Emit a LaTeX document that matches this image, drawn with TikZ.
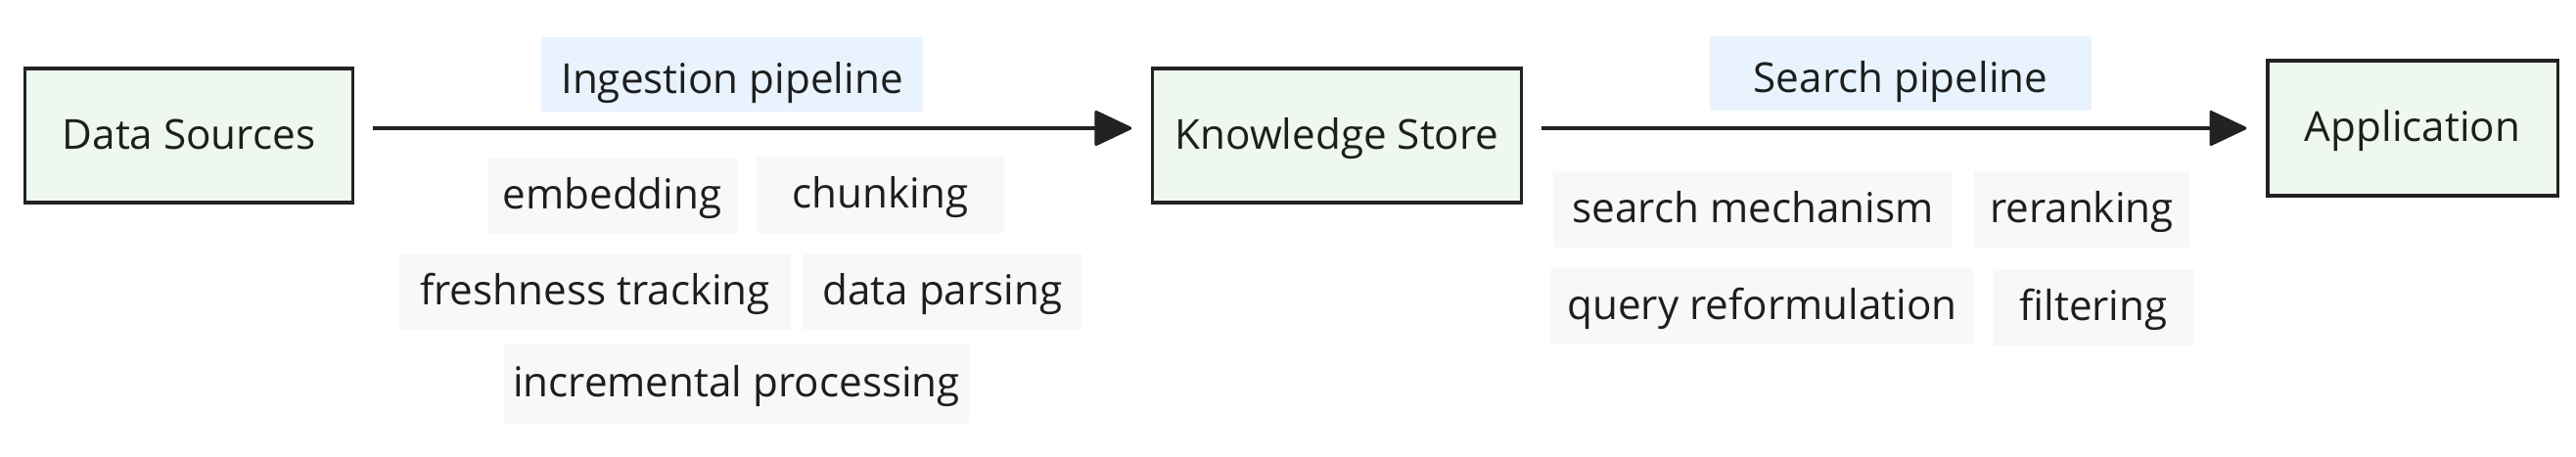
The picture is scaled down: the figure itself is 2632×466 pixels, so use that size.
\documentclass[tikz,border=0pt]{standalone}
\usepackage{fontspec}
\setmainfont{Open Sans}
\usetikzlibrary{positioning,arrows.meta}
\definecolor{ragLine}{HTML}{222222}
\definecolor{ragText}{HTML}{1E1E1E}
\definecolor{ragGreen}{HTML}{EEF8EE}
\definecolor{ragBlue}{HTML}{E8F3FE}
\definecolor{ragGray}{HTML}{F7F8FA}
\tikzset{
	ragbox/.style={
		draw=ragLine,
		line width=0.9pt,
		fill=ragGreen,
		align=center,
		inner sep=0pt,
		minimum height=1.37cm,
		text height=0.3cm,
		text depth=0.03cm,
		text=ragText,
		font=\fontsize{12}{14}\selectfont
	},
	ragLabel/.style={
		fill=ragBlue,
		inner sep=0pt,
		minimum width=3.9cm,
		minimum height=0.76cm,
		text height=0.38cm,
		text depth=0pt,
		text=ragText,
		font=\fontsize{12}{14}\selectfont
	},
	ragTag/.style={
		fill=ragGray,
		inner sep=0pt,
		minimum height=0.78cm,
		text height=0.3cm,
		text depth=0.03cm,
		text=ragText,
		font=\fontsize{12}{14}\selectfont
	},
	ragFlow/.style={
		draw=ragLine,
		line width=0.9pt,
		-{Triangle[length=0.4cm, width=0.37cm, round]},
		shorten <=0.19cm,
		shorten >=0.2cm
	}
}

\begin{document}
\begin{tikzpicture}[x=0.01cm, y=-0.01cm]
	\useasboundingbox (0,0) rectangle (2632,466);

	% Main stages
	\node[ragbox, minimum width=3.34cm] (sources) at (193,138.5) {Data Sources};
	\node[ragbox, minimum width=3.76cm] (store) at (1366,138.5) {Knowledge Store};
	\node[ragbox, minimum width=2.96cm, minimum height=1.38cm] (app) at (2465,131) {Application};

	% Pipeline labels
	\node[ragLabel] (ingestLabel) at (748,76) {Ingestion pipeline};
	\node[ragLabel] (searchLabel) at (1942,75) {Search pipeline};

	% Ingestion tags
	\node[ragTag, minimum width=2.55cm] (embedding) at (625.5,200) {embedding};
	\node[ragTag, minimum width=2.53cm] (chunking) at (899.5,199) {chunking};
	\node[ragTag, minimum width=4.0cm] (freshness) at (608,298) {freshness tracking};
	\node[ragTag, minimum width=2.86cm] (parsing) at (963,298) {data parsing};
	\node[ragTag, minimum width=4.75cm, minimum height=0.82cm] (incremental) at (752.5,392) {incremental processing};

	% Search tags
	\node[ragTag, minimum width=4.08cm] (mechanism) at (1791,214) {search mechanism};
	\node[ragTag, minimum width=2.2cm] (reranking) at (2127,214) {reranking};
	\node[ragTag, minimum width=4.33cm] (reformulation) at (1800.5,313) {query reformulation};
	\node[ragTag, minimum width=2.06cm] (filtering) at (2139,314) {filtering};

	% Flows
	\draw[ragFlow] (sources.east |- app.west) -- (store.west |- app.west);
	\draw[ragFlow] (store.east |- app.west) -- (app.west);

\end{tikzpicture}
\end{document}
